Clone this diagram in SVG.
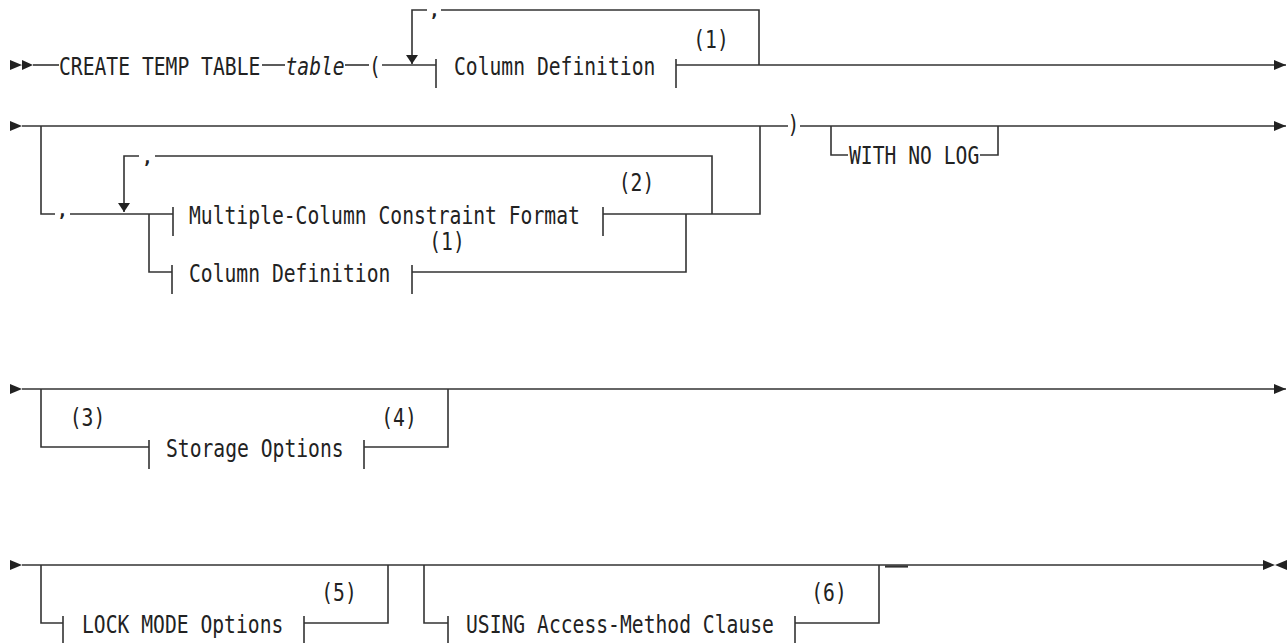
<svg xmlns="http://www.w3.org/2000/svg" width="1288" height="643" viewBox="0 0 1288 643">
<style>
.ln{stroke:#333;stroke-width:1.6;fill:none}
.tk{stroke:#333;stroke-width:1.6;fill:none}
.tx{font-family:"DejaVu Sans Mono","Liberation Mono",monospace;font-size:24px;fill:#222}
.cm{font-family:"DejaVu Sans Mono","Liberation Mono",monospace;font-size:18px;font-weight:bold;fill:#222}
.it{font-style:italic}
.ah{fill:#222;stroke:none}
</style>
<defs>
<marker id="arr" markerUnits="userSpaceOnUse" markerWidth="12" markerHeight="10" refX="12" refY="5" orient="auto"><path class="ah" d="M0,0 L12,5 L0,10 Z"/></marker>
<marker id="arrd" markerUnits="userSpaceOnUse" markerWidth="9" markerHeight="12" refX="9" refY="6" orient="auto"><path class="ah" d="M0,0 L9,6 L0,12 Z"/></marker>
</defs>
<rect width="1288" height="643" fill="#fff"/>

<g id="connectors">
  <!-- row 1 -->
  <path class="ln" d="M33,65 H59"/>
  <path class="ln" d="M262,65 H285"/>
  <path class="ln" d="M345,65 H369"/>
  <path class="ln" d="M382,65 H436"/>
  <path class="ln" d="M759,65 V10 H441"/>
  <path class="ln" d="M427,10 H412 V64" marker-end="url(#arrd)"/>
  <path class="ln" d="M676,65 H1286" marker-end="url(#arr)"/>
  <text class="cm" x="434.5" y="17" text-anchor="middle">,</text>
  <!-- row 2 -->
  <path class="ln" d="M22,126 H788"/>
  <path class="ln" d="M800,126 H1286" marker-end="url(#arr)"/>
  <path class="ln" d="M41,126 V214 H55"/>
  <path class="ln" d="M70,214 H173"/>
  <text class="cm" x="62.5" y="217" text-anchor="middle">,</text>
  <path class="ln" d="M712,214 V156 H155"/>
  <path class="ln" d="M139,156 H124 V212" marker-end="url(#arrd)"/>
  <text class="cm" x="147.5" y="164" text-anchor="middle">,</text>
  <path class="ln" d="M603,214 H760 V126"/>
  <path class="ln" d="M149,214 V272 H172"/>
  <path class="ln" d="M412,272 H686 V214"/>
  <path class="ln" d="M831,126 V155 H848"/>
  <path class="ln" d="M980,155 H998 V126"/>
  <!-- row 3 -->
  <path class="ln" d="M22,389 H1286" marker-end="url(#arr)"/>
  <path class="ln" d="M41,389 V447 H149"/>
  <path class="ln" d="M364,447 H448 V389"/>
  <!-- row 4 -->
  <path class="ln" d="M22,565 H1263"/>
  <path class="ln" d="M41,565 V623 H63"/>
  <path class="ln" d="M304,623 H388 V565"/>
  <path class="ln" d="M424,565 V623 H448"/>
  <path class="ln" d="M795,623 H879 V565"/>
  <path class="ln" d="M885,566.5 H908" style="stroke-width:2.2"/>
</g>

<g id="start1"><path class="ah" d="M10,60 L22,65 L10,70 Z M22,60 L33,65 L22,70 Z"/></g>
<g id="create"><text class="tx" transform="translate(59,75) scale(0.82,1)">CREATE TEMP TABLE</text></g>
<g id="table"><text class="tx it" transform="translate(285.5,75) scale(0.82,1)">table</text></g>
<g id="lparen"><text class="tx" transform="translate(375,75) scale(0.82,1)" text-anchor="middle">(</text></g>
<g id="coldef1">
  <path class="tk" d="M436,59 V88 M676,59 V88"/>
  <text class="tx" transform="translate(454,75) scale(0.82,1)">Column Definition</text>
  <text class="tx" transform="translate(711,48) scale(0.82,1)" text-anchor="middle">(1)</text>
</g>

<g id="start2"><path class="ah" d="M10,121 L22,126 L10,131 Z"/></g>
<g id="multicol">
  <path class="tk" d="M173,207 V236 M603,207 V236"/>
  <text class="tx" transform="translate(189,223.5) scale(0.82,1)">Multiple-Column Constraint Format</text>
  <text class="tx" transform="translate(636.5,191) scale(0.82,1)" text-anchor="middle">(2)</text>
</g>
<g id="coldef2">
  <path class="tk" d="M172,265 V294 M412,265 V294"/>
  <text class="tx" transform="translate(189,281.5) scale(0.82,1)">Column Definition</text>
  <text class="tx" transform="translate(447,250) scale(0.82,1)" text-anchor="middle">(1)</text>
</g>
<g id="rparen"><text class="tx" transform="translate(793.5,133) scale(0.82,1)" text-anchor="middle">)</text></g>
<g id="nolog"><text class="tx" transform="translate(849,164) scale(0.82,1)">WITH NO LOG</text></g>

<g id="start3"><path class="ah" d="M10,384 L22,389 L10,394 Z"/></g>
<g id="storage">
  <path class="tk" d="M149,440 V469 M364,440 V469"/>
  <text class="tx" transform="translate(166,456.5) scale(0.82,1)">Storage Options</text>
  <text class="tx" transform="translate(87.5,426) scale(0.82,1)" text-anchor="middle">(3)</text>
  <text class="tx" transform="translate(399,426) scale(0.82,1)" text-anchor="middle">(4)</text>
</g>

<g id="start4"><path class="ah" d="M10,560 L22,565 L10,570 Z"/></g>
<g id="lockmode">
  <path class="tk" d="M63,616 V645 M304,616 V645"/>
  <text class="tx" transform="translate(82,632.5) scale(0.82,1)">LOCK MODE Options</text>
  <text class="tx" transform="translate(339,601) scale(0.82,1)" text-anchor="middle">(5)</text>
</g>
<g id="using">
  <path class="tk" d="M448,616 V645 M795,616 V645"/>
  <text class="tx" transform="translate(466,632.5) scale(0.82,1)">USING Access-Method Clause</text>
  <text class="tx" transform="translate(829,601) scale(0.82,1)" text-anchor="middle">(6)</text>
</g>
<g id="end"><path class="ah" d="M1263,560 L1275,565 L1263,570 Z M1287,560 L1275,565 L1287,570 Z"/></g>
</svg>
